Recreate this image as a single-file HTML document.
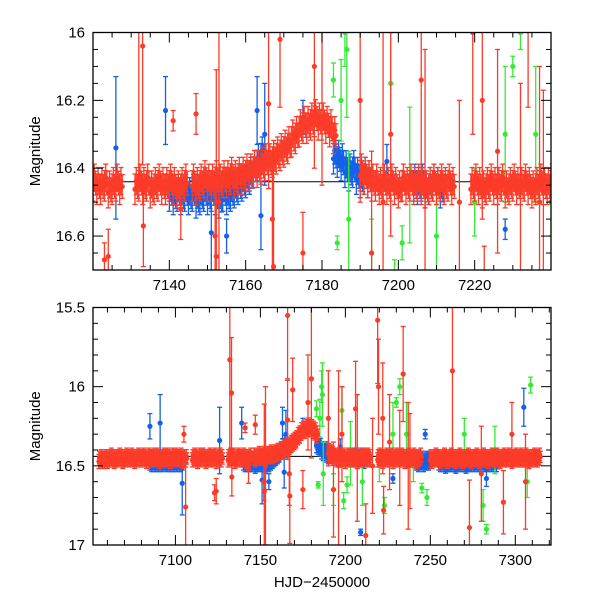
<!DOCTYPE html>
<html><head><meta charset="utf-8"><style>
body{margin:0;background:#fff}
svg text{font-family:"Liberation Sans",sans-serif;font-size:15px;fill:#000}
</style></head><body>
<svg id="c" width="600" height="600"></svg>
<script>
// data: segments of daily red magnitudes [startDay, mags...]
const redSegments=[
[7055,16.46,16.45,16.46,16.46,16.45,16.46,16.45,16.44,16.45,16.46,16.45,16.45,16.44,16.45,16.46,16.45,16.44,16.45,16.45,16.44,16.45,16.46,16.45,16.44,16.45,16.45,16.44,16.45,16.46,16.44,16.45,16.45,16.44,16.45,16.44,16.45,16.46,16.45,16.44,16.45,16.44,16.45,16.46,16.44,16.45,16.44,16.45,16.45,16.44,16.46,16.45,16.45],
[7110,16.45,16.44,16.45,16.46,16.44,16.45,16.44,16.45,16.46,16.45,16.44,16.45,16.45,16.44,16.46,16.45,16.44,16.45],
[7131,16.45,16.44,16.45,16.44,16.46,16.45,16.44,16.45,16.45,16.44,16.45,16.46,16.45,16.44],
[7146,16.44,16.45,16.44,16.43,16.44,16.44,16.43,16.44,16.43,16.43,16.42,16.43,16.42,16.42,16.41,16.41,16.40,16.40,16.39,16.38,16.38,16.37,16.36,16.35,16.34,16.33,16.31,16.30,16.28,16.27,16.27,16.26,16.25,16.26,16.26,16.27,16.28,16.30],
[7190,16.41,16.42,16.43,16.44,16.44,16.45,16.44,16.45,16.44,16.45,16.46,16.44,16.45,16.44,16.45,16.44,16.45,16.46,16.45,16.44,16.45,16.44,16.45,16.44,16.45],
[7219,16.45,16.44,16.45,16.46,16.45,16.44,16.45,16.45,16.44,16.46,16.45,16.44,16.45,16.45,16.44,16.45,16.46,16.45,16.44,16.45,16.45,16.44,16.45,16.46,16.45,16.44],
[7250,16.45,16.46,16.45,16.44,16.45,16.45,16.46,16.45,16.44,16.45,16.46,16.45,16.44,16.45,16.45,16.46,16.45,16.44,16.45,16.46,16.45,16.45,16.44,16.45,16.46,16.45,16.45,16.44,16.45,16.46,16.45,16.44,16.45,16.45,16.46,16.45,16.44,16.45,16.45,16.44,16.45,16.46,16.45,16.44,16.45,16.45,16.44,16.45,16.46,16.45,16.44,16.45,16.45,16.44,16.45,16.45,16.44,16.45,16.46,16.45,16.45,16.44,16.45,16.45,16.44]
];
const blueSegments=[
[7085,16.47,16.48,16.47,16.48,16.47,16.48,16.47,16.48,16.47,16.47,16.48,16.47,16.48,16.47,16.48,16.47,16.48,16.47,16.48,16.47],
[7140,16.47,16.48,16.47,16.48,16.47,16.48,16.47,16.49,16.48,16.47,16.48,16.47,16.48,16.49,16.47,16.48,16.47,16.46,16.45,16.44,16.43,16.42,16.40,16.38,16.36],
[7183,16.36,16.37,16.38,16.40,16.41,16.40,16.42,16.43,16.42,16.43],
[7204,16.44,16.45,16.44,16.46,16.45,16.44,16.45,16.46],
[7241,16.46,16.47,16.48,16.47,16.46,16.48,16.47,16.46,16.47],
[7255,16.47,16.48,16.47,16.48,16.49,16.48,16.47,16.48,16.47,16.48,16.49,16.48,16.47,16.48,16.47,16.48,16.49,16.48,16.47,16.48,16.47,16.48,16.47,16.48,16.47,16.48,16.47,16.48,16.47,16.48,16.47,16.48,16.47,16.48,16.48]
];
const redOut=[[7123,16.67,0.05],[7133,16.04,0.35],[7133.2,16.57,0.12],[7143,16.52,0.09],[7147,16.24,0.06],[7152,16.6,0.12],[7152.3,16.66,0.55],[7166,16.21,0.25],[7167,16.55,0.2],[7167.3,16.69,0.3],[7169,16.02,0.2],[7178,16.1,0.3],[7180,15.95,0.5],[7190,16.2,0.3],[7196,16.5,0.6],[7198,16.3,0.3],[7207,16.45,0.4],[7216,16.5,0.3],[7222,16.2,0.35],[7226,16.35,0.3],[7232,16.45,0.3],[7237,16.5,0.4],[7105,16.3,0.05],[7106,16.76,0.28],[7124,16.66,0.08],[7132,15.83,0.6],[7141,16.26,0.03],[7153,16.5,0.5],[7166,15.55,0.4],[7175,16.65,0.12],[7193,16.65,0.3],[7206,16.14,0.3],[7212,16.94,0.2],[7219,15.58,0.4],[7219.5,16.0,0.3],[7222.5,16.78,0.15],[7234,15.92,0.3],[7238,16.47,0.3],[7263,15.9,0.6],[7273,16.89,0.3],[7280,16.55,0.3],[7293,16.73,0.2],[7298,16.3,0.2],[7306,16.6,0.3]];
const blueOut=[[7126,16.34,0.21],[7139,16.23,0.1],[7151,16.59,0.15],[7163,16.23,0.1],[7164,16.54,0.1],[7165,16.3,0.15],[7085,16.25,0.08],[7091,16.23,0.18],[7104,16.61,0.2],[7155,16.6,0.05],[7197,16.38,0.05],[7209,16.92,0.02],[7247,16.3,0.03],[7283,16.58,0.05],[7305,16.13,0.12],[7228,16.58,0.03],[7175,16.25,0.05]];
const greenOut=[[7185,16.2,0.12],[7186,16.0,0.1],[7186.5,16.05,0.2],[7183,16.14,0.05],[7184,16.62,0.02],[7187,16.55,0.2],[7193,16.65,0.1],[7199,16.72,0.05],[7201,16.62,0.05],[7210,16.6,0.15],[7220,16.5,0.1],[7223,16.75,0.05],[7228,16.3,0.2],[7232,16.0,0.05],[7240,16.5,0.1],[7245,16.64,0.03],[7248,16.7,0.05],[7270,16.3,0.1],[7281,16.75,0.1],[7283,16.9,0.03],[7288,16.4,0.15],[7309,15.99,0.05],[7307,16.6,0.1],[7198,16.15,0.15],[7203,16.42,0.2],[7230,16.1,0.03],[7236,16.3,0.2]];
const topXTicks=[7140,7160,7180,7200,7220];
const topYTicks=[16,16.2,16.4,16.6];
const botXTicks=[7100,7150,7200,7250,7300];
const botYTicks=[15.5,16,16.5,17];
const botYLabels=["15.5","16","16.5","17"];

const NS="http://www.w3.org/2000/svg";
const svg=document.getElementById('c');
function mk(t,a,p){const e=document.createElementNS(NS,t);for(const k in a)e.setAttribute(k,a[k]);(p||svg).appendChild(e);return e;}
const RED="#fb3b28",BLUE="#1460e6",GREEN="#35ea35";

function panel(name,x0,x1,y0,y1,px0,px1,py0,py1,xt,xminor,yt,ymin,ylabels,showXLabel){
  const g=mk('g',{});
  
  
  const sx=v=>px0+(v-x0)/(x1-x0)*(px1-px0);
  const sy=v=>py0+(v-y0)/(y1-y0)*(py1-py0);
  const cid=name+'-clip';
  const cp=mk('clipPath',{id:cid},g);mk('rect',{x:px0,y:py0,width:px1-px0,height:py1-py0},cp);
  const d=mk('g',{'clip-path':`url(#${cid})`},g);
  const base=mk('line',{x1:px0,x2:px1,y1:sy(16.44),y2:sy(16.44),stroke:'#000','stroke-width':1},d);
  
  
  function pt(t,m,e,col,nm){
    const x=sx(t),y=sy(m),ya=sy(m-e),yb=sy(m+e);
    const gg=mk('g',{stroke:col,fill:col,'stroke-width':1.3},d);
    
    
    mk('line',{x1:x,x2:x,y1:ya,y2:yb},gg);
    mk('line',{x1:x-2.5,x2:x+2.5,y1:ya,y2:ya},gg);
    mk('line',{x1:x-2.5,x2:x+2.5,y1:yb,y2:yb},gg);
    mk('circle',{cx:x,cy:y,r:2.6,stroke:'none'},gg);
  }
  const offs=[[0,0.012,0.045],[0.33,-0.012,0.04],[0.66,0.004,0.035]];
  blueSegments.forEach(s=>{for(let i=1;i<s.length;i++){offs.forEach(o=>pt(s[0]+i-1+o[0],s[i]+o[1],o[2],BLUE,'blue-point'));}});
  blueOut.forEach(p=>pt(p[0],p[1],p[2],BLUE,'blue-outlier'));
  greenOut.forEach(p=>pt(p[0],p[1],p[2],GREEN,'green-point'));
  redSegments.forEach(s=>{for(let i=1;i<s.length;i++){offs.forEach(o=>pt(s[0]+i-1+o[0],s[i]+o[1],o[2],RED,'red-point'));}});
  redOut.forEach(p=>pt(p[0],p[1],p[2],RED,'red-outlier'));
  const fr=mk('rect',{x:px0,y:py0,width:px1-px0,height:py1-py0,fill:'none',stroke:'#000','stroke-width':1.3},g);
  
  
  for(let v=Math.ceil(x0/xminor)*xminor;v<=x1;v+=xminor){
    const x=sx(v),L=(xt.includes(v))?10:5;
    mk('line',{x1:x,x2:x,y1:py1,y2:py1-L,stroke:'#000'},g);
    mk('line',{x1:x,x2:x,y1:py0,y2:py0+L,stroke:'#000'},g);
  }
  xt.forEach(v=>{const t=mk('text',{x:sx(v),y:py1+20,'text-anchor':'middle'},g);t.textContent=v;
    
    });
  for(let k=0;;k++){const v=+(y0+k*ymin).toFixed(3);if(v>y1+1e-6)break;
    const y=sy(v),L=yt.some(q=>Math.abs(q-v)<1e-6)?10:5;
    mk('line',{x1:px0,x2:px0+L,y1:y,y2:y,stroke:'#000'},g);
    mk('line',{x1:px1,x2:px1-L,y1:y,y2:y,stroke:'#000'},g);
  }
  yt.forEach((v,i)=>{const t=mk('text',{x:px0-8,y:sy(v)+5,'text-anchor':'end'},g);t.textContent=ylabels[i];
    
    });
  const yl=mk('text',{x:0,y:0,'text-anchor':'middle',transform:`translate(40,${(py0+py1)/2}) rotate(-90)`},g);
  yl.textContent='Magnitude';
  
  
  if(showXLabel){const xl=mk('text',{x:(px0+px1)/2,y:py1+42,'text-anchor':'middle'},g);xl.textContent='HJD\u22122450000';
    
    }
}
panel('top-panel',7120,7240,16.0,16.7,93,551,32.5,270,topXTicks,5,topYTicks,0.05,topYTicks.map(v=>v===16?'16':v.toFixed(1)),false);
panel('bottom-panel',7051.5,7321,15.5,17.0,93,551,307.5,545,botXTicks,10,botYTicks,0.1,botYLabels,true);
</script>
</body></html>
